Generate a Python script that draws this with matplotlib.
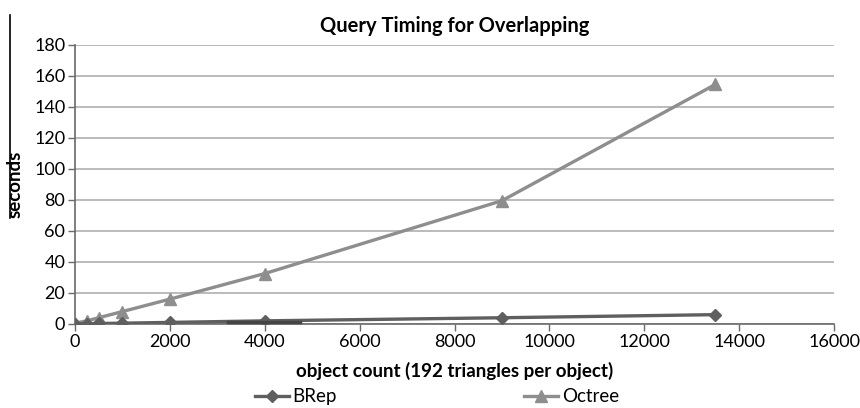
import matplotlib
matplotlib.use('Agg')
import matplotlib.pyplot as plt
from matplotlib.lines import Line2D

plt.rcParams['font.family'] = ['Lato', 'DejaVu Sans']

# data
object_count = [0, 250, 500, 1000, 2000, 4000, 9000, 13500]
brep_seconds = [0.1, 0.2, 0.3, 0.5, 1.0, 2.0, 4.0, 6.0]
octree_seconds = [0.5, 2.0, 4.0, 8.0, 16.0, 32.5, 79.5, 154.5]
x_ticks = list(range(0, 16001, 2000))
y_ticks = list(range(0, 181, 20))

brep_color = "#5f5f5f"
octree_color = "#8e8e8e"

fig = plt.figure(figsize=(8.6, 4.08), dpi=100)
ax = fig.add_axes([0.0872, 0.206, 0.8826, 0.684])

ax.plot(object_count, octree_seconds, marker="^", color=octree_color,
        linewidth=2.4, markersize=9, label="Octree", zorder=3)
ax.plot(object_count, brep_seconds, marker="D", color=brep_color,
        linewidth=2.4, markersize=6.5, label="BRep", zorder=4)

ax.set_xlim(0, 16000)
ax.set_ylim(0, 180)
ax.set_xticks(x_ticks)
ax.set_yticks(y_ticks)
ax.grid(axis="y", color="#a8a8a8", linewidth=1.1)
ax.set_axisbelow(True)
for side in ("top", "right"):
    ax.spines[side].set_visible(False)
for side in ("left", "bottom"):
    ax.spines[side].set_color("#6a6a6a")
    ax.spines[side].set_linewidth(1.2)
ax.tick_params(axis="both", direction="out", length=5, width=1,
               color="#6a6a6a", labelsize=13, pad=2)

ax.set_title("Query Timing for Overlapping", fontsize=14.5, fontweight="bold", pad=9)
ax.set_xlabel("object count (192 triangles per object)", fontsize=13.5,
              fontweight="bold", labelpad=9)
ax.set_ylabel("seconds", fontsize=13.5, fontweight="bold", labelpad=0)
ax.yaxis.set_label_coords(-0.068, 0.5)

handles, labels = ax.get_legend_handles_labels()
fig.legend(handles[::-1], labels[::-1], loc="lower center", ncol=2,
           bbox_to_anchor=(0.508, -0.035), frameon=False, fontsize=13.5,
           columnspacing=10, handlelength=1.8, handletextpad=0.2)

# edge marks visible in the reference scan
fig.add_artist(Line2D([0.012, 0.012], [1 - 15 / 408, 1 - 218 / 408],
                      color="black", linewidth=1.2))
fig.add_artist(Line2D([228 / 860, 300 / 860], [1 - 322 / 408, 1 - 322 / 408],
                      color="#444444", linewidth=2.5))

fig.savefig("out.png", dpi=100)
plt.close(fig)
